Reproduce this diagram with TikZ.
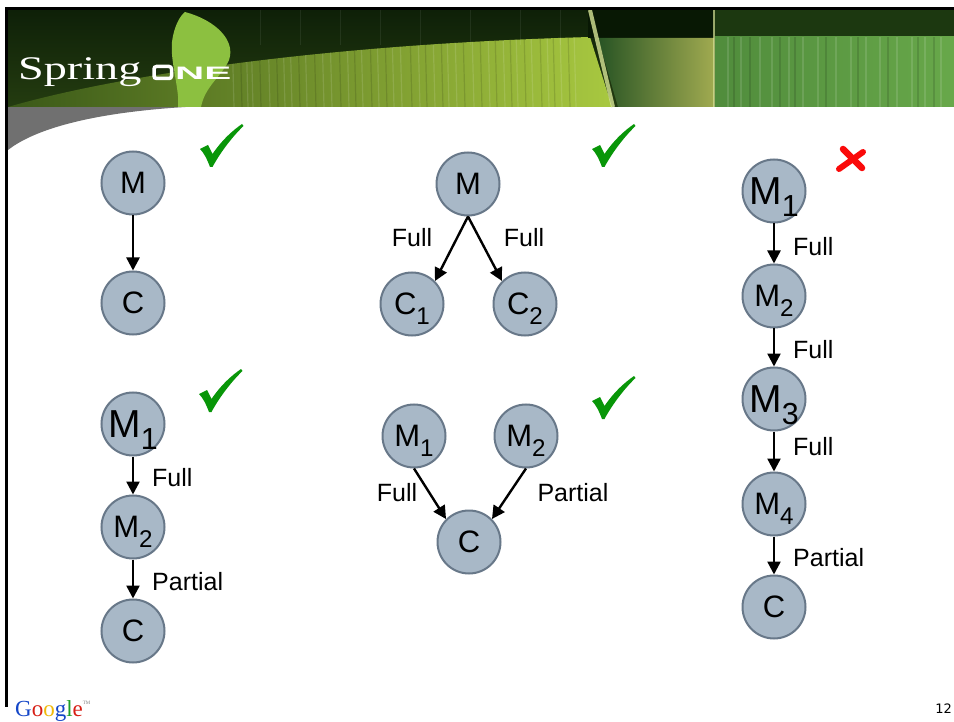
\documentclass[tikz,border=0pt]{standalone}
\usepackage{fontspec}
\setmainfont{Liberation Sans}
\newfontfamily\seriffont{Liberation Serif}
\newfontfamily\pagefont{DejaVu Sans}
\usetikzlibrary{arrows.meta}
\definecolor{nodefill}{RGB}{168,184,199}
\definecolor{nodeline}{RGB}{104,120,137}
\definecolor{chkgreen}{RGB}{8,150,8}
\definecolor{xred}{RGB}{250,10,10}
\definecolor{bantop}{RGB}{14,32,8}
\definecolor{banbot}{RGB}{36,60,16}
\definecolor{olivea}{RGB}{58,88,24}
\definecolor{brighta}{RGB}{146,186,54}
\definecolor{brightb}{RGB}{168,200,64}
\definecolor{leafgreen}{RGB}{140,192,64}
\definecolor{vdark}{RGB}{8,24,4}
\definecolor{leafdk}{RGB}{40,84,36}
\definecolor{leafmid}{RGB}{150,190,60}
\definecolor{leafyl}{RGB}{160,170,80}
\definecolor{edgelight}{RGB}{214,228,150}
\definecolor{rdark}{RGB}{28,56,16}
\definecolor{rgreena}{RGB}{80,140,60}
\definecolor{rgreenb}{RGB}{104,168,74}
\definecolor{swoosh}{RGB}{112,112,112}
\definecolor{gblue}{RGB}{20,70,200}
\definecolor{gred}{RGB}{215,30,20}
\definecolor{gyellow}{RGB}{240,185,10}
\definecolor{ggreen}{RGB}{30,160,40}
\newcommand\sbs[1]{\raisebox{-0.32em}[0pt][0pt]{\scalebox{0.78}{#1}}}
\tikzset{
  nd/.style={circle, draw=nodeline, fill=nodefill, line width=2pt, minimum size=63pt, inner sep=0pt, font=\fontsize{31}{31}\selectfont},
  ndbig/.style={nd, font=\fontsize{39}{39}\selectfont},
  lbl/.style={inner sep=0pt, font=\fontsize{25}{25}\selectfont},
  arr/.style={-{Triangle[length=13pt,width=13pt]}, line width=2.4pt},
  chk/.pic={\fill[chkgreen] (0,24) -- (8,20) -- (12.5,29) .. controls (22,15) and (32,6) .. (42,-1) -- (43.5,1) .. controls (32,12) and (20,28) .. (12.5,42) -- (10,42) .. controls (7,34) and (4,28) .. (0,24) -- cycle;},
  stripe/.style={line width=1.2pt, opacity=0.12}
}
\begin{document}
\begin{tikzpicture}[x=1pt,y=-1pt]
\useasboundingbox (0,0) rectangle (954,722);
\fill[white] (0,0) rectangle (954,722);
% gray swoosh
\fill[swoosh] (8,106) -- (205,106) .. controls (110,110) and (40,125) .. (8,150) -- cycle;
% banner
\shade[top color=bantop, bottom color=banbot] (8,10) rectangle (954,107);
\shade[left color=olivea, middle color=brighta, right color=brightb] (8,107) .. controls (100,80) and (300,45) .. (590,37) -- (612,107) -- cycle;
\begin{scope}
\clip (8,107) .. controls (100,80) and (300,45) .. (590,37) -- (612,107) -- cycle;
\foreach \sx in {232,246,251,268,283,290,305,322,330,347,361,377,392,400,418,433,447,455,472,488,503,516,531,547,560,574}
  \draw[stripe, white] (\sx,30) -- (\sx+2,107);
\foreach \sx in {240,259,276,298,314,339,354,370,385,410,425,441,463,480,495,510,524,540,553,568}
  \draw[stripe, black] (\sx,30) -- (\sx+2,107);
\end{scope}
\foreach \sx in {260,300,340,380,420,470,520,560}
  \draw[line width=1pt, opacity=0.07, white] (\sx,10) -- (\sx,45);
% leaf blob
\fill[leafgreen] (185,12) .. controls (215,20) and (236,40) .. (229,60) .. controls (222,76) and (205,86) .. (201,107) -- (178,107) .. controls (180,90) and (170,62) .. (172,42) .. controls (174,26) and (180,16) .. (185,12) -- cycle;
% middle leaf
\fill[vdark] (588,10) rectangle (714,38);
\shade[left color=leafdk, middle color=leafmid, right color=leafyl] (598,38) -- (714,38) -- (714,107) -- (618,107) -- cycle;
\draw[edgelight, line width=4pt, opacity=0.8] (590,10) -- (613,107);
\draw[edgelight, line width=2pt, opacity=0.7] (714,10) -- (714,107);
% right section
\fill[rdark] (715,10) rectangle (954,37);
\shade[left color=rgreena, right color=rgreenb] (715,37) rectangle (954,107);
\foreach \sx in {728,741,760,772,789,803,818,836,851,866,880,897,912,925,941}
  \draw[stripe, white] (\sx,37) -- (\sx,107);
\foreach \sx in {734,750,780,795,826,858,888,918,934}
  \draw[stripe, black] (\sx,37) -- (\sx,107);
% borders
\fill[black] (5,7) rectangle (954,10);
\fill[black] (5,7) rectangle (8,707);
% logo
\node[anchor=base west, inner sep=0pt, text=white, font=\seriffont\fontsize{33}{33}\selectfont] (spring) at (18,80) {\scalebox{1.4}[1]{Spring}};
\draw[white, line width=3.5pt, rounded corners=2.5pt] (154,66.5) rectangle (171.5,78.5);
\node[anchor=base west, inner sep=0pt, text=white, font=\bfseries\fontsize{18}{18}\selectfont] (ne) at (175,80) {\scalebox{2.25}[1]{NE}};
% footer
\node[anchor=base west, inner sep=0pt, font=\seriffont\fontsize{23}{23}\selectfont] (google) at (15,716) {\textcolor{gblue}{G}\textcolor{gred}{o}\textcolor{gyellow}{o}\textcolor{gblue}{g}\textcolor{ggreen}{l}\textcolor{gred}{e}\raisebox{0.5em}{\fontsize{5}{5}\selectfont\textcolor{gray}{TM}}};
\node[anchor=base east, inner sep=0pt, font=\pagefont\fontsize{13}{13}\selectfont] (pg) at (952,713) {12};

% diagram 1
\node[nd] (aM) at (133,183) {M};
\node[nd] (aC) at (133,303) {C};
\draw[arr] (aM) -- (aC);
\pic at (200,125) {chk};

% diagram 2
\node[nd] (bM) at (468,184) {M};
\node[nd] (bC1) at (412,304) {C\sbs{1}};
\node[nd] (bC2) at (525,304) {C\sbs{2}};
\draw[arr] (bM.south) -- (bC1.45);
\draw[arr] (bM.south) -- (bC2.135);
\node[lbl] (bL1) at (412,238) {Full};
\node[lbl] (bL2) at (524,238) {Full};
\pic at (592,125) {chk};

% diagram 3
\node[ndbig] (cM1) at (133,424) {M\sbs{1}};
\node[nd] (cM2) at (133,527) {M\sbs{2}};
\node[nd] (cC) at (133,631) {C};
\draw[arr] (cM1) -- (cM2);
\draw[arr] (cM2) -- (cC);
\node[lbl, anchor=west] (cL1) at (152,478) {Full};
\node[lbl, anchor=west] (cL2) at (152,582) {Partial};
\pic at (199,370) {chk};

% diagram 4
\node[nd] (dM1) at (414,436) {M\sbs{1}};
\node[nd] (dM2) at (526,436) {M\sbs{2}};
\node[nd] (dC) at (469,542) {C};
\draw[arr] (dM1.south) -- (dC.135);
\draw[arr] (dM2.south) -- (dC.45);
\node[lbl] (dL1) at (397,493) {Full};
\node[lbl] (dL2) at (573,493) {Partial};
\pic at (592,377) {chk};

% diagram 5
\node[ndbig] (eM1) at (774,191) {M\sbs{1}};
\node[nd] (eM2) at (774,296) {M\sbs{2}};
\node[ndbig] (eM3) at (774,399) {M\sbs{3}};
\node[nd] (eM4) at (774,504) {M\sbs{4}};
\node[nd] (eC) at (774,607) {C};
\draw[arr] (eM1) -- (eM2);
\draw[arr] (eM2) -- (eM3);
\draw[arr] (eM3) -- (eM4);
\draw[arr] (eM4) -- (eC);
\node[lbl, anchor=west] (eL1) at (793,247) {Full};
\node[lbl, anchor=west] (eL2) at (793,350) {Full};
\node[lbl, anchor=west] (eL3) at (793,447) {Full};
\node[lbl, anchor=west] (eL4) at (793,558) {Partial};
\draw[xred, line width=6.5pt, line cap=round] (843,149) -- (862,168);
\draw[xred, line width=6pt, line cap=round] (863,152) -- (839,169);
\end{tikzpicture}
\end{document}
